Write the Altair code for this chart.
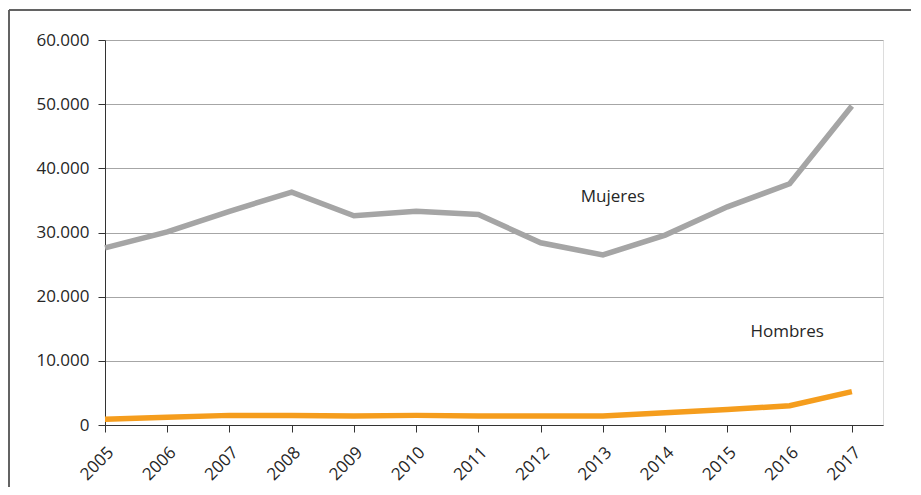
import altair as alt
import pandas as pd

years = list(range(2005, 2018))
mujeres = [27600, 30100, 33300, 36300, 32600, 33300, 32800, 28400, 26500, 29600, 34000, 37600, 49700]
hombres = [900, 1200, 1500, 1500, 1400, 1500, 1400, 1400, 1400, 1900, 2400, 3000, 5200]
series_names = ["Mujeres", "Hombres"]
series_colors = ["#a5a5a5", "#f59d1d"]

label_text = ["Mujeres", "Hombres"]
label_x = [2013.16, 2015.96]
label_y = [35500, 14500]

rows = []
for name, vals in zip(series_names, [mujeres, hombres]):
    for y, v in zip(years, vals):
        rows.append({"year": y, "value": v, "serie": name})
df = pd.DataFrame(rows)
labels_df = pd.DataFrame({"text": label_text, "x": label_x, "y": label_y})

W, H = 778, 385
FONT = "Open Sans"
TXT = "#262626"

xscale = alt.Scale(domain=[2005, 2017.5], nice=False, zero=False)
yscale = alt.Scale(domain=[0, 60000], nice=False)

lines = alt.Chart(df).mark_line(strokeWidth=5.5, strokeJoin="miter").encode(
    x=alt.X("year:Q", scale=xscale,
            axis=alt.Axis(values=years, format="d", labelAngle=-45, title=None,
                          grid=False, tickSize=7, labelFontSize=17, labelFont=FONT,
                          labelColor=TXT, domainColor="#333333", tickColor="#333333",
                          labelPadding=12)),
    y=alt.Y("value:Q", scale=yscale,
            axis=alt.Axis(values=list(range(0, 60001, 10000)), title=None,
                          labelExpr="replace(format(datum.value, ','), ',', '.')",
                          tickSize=7, labelPadding=9, labelFontSize=17, labelFont=FONT,
                          labelColor=TXT, domainColor="#333333", tickColor="#333333",
                          gridColor="#a6a6a6", gridWidth=1)),
    color=alt.Color("serie:N", scale=alt.Scale(domain=series_names, range=series_colors), legend=None),
)

texts = alt.Chart(labels_df).mark_text(fontSize=17, font=FONT, color=TXT).encode(
    x=alt.X("x:Q", scale=xscale),
    y=alt.Y("y:Q", scale=yscale),
    text="text:N",
)

border_top = alt.Chart(labels_df).mark_rule(color="#595959", strokeWidth=1.5).encode(
    x=alt.value(-96), x2=alt.value(W + 60), y=alt.value(-30)
)
border_left = alt.Chart(labels_df).mark_rule(color="#595959", strokeWidth=1.5).encode(
    x=alt.value(-96), y=alt.value(-30), y2=alt.value(H + 80)
)

chart = alt.layer(lines, texts, border_top, border_left).properties(
    width=W, height=H,
    autosize=alt.AutoSizeParams(type="none"),
    padding={"left": 97, "top": 32, "right": 28, "bottom": 62},
).configure_view(stroke=None).configure(background="white")

chart.save("out.html", embed_options={"renderer": "svg", "actions": False})
